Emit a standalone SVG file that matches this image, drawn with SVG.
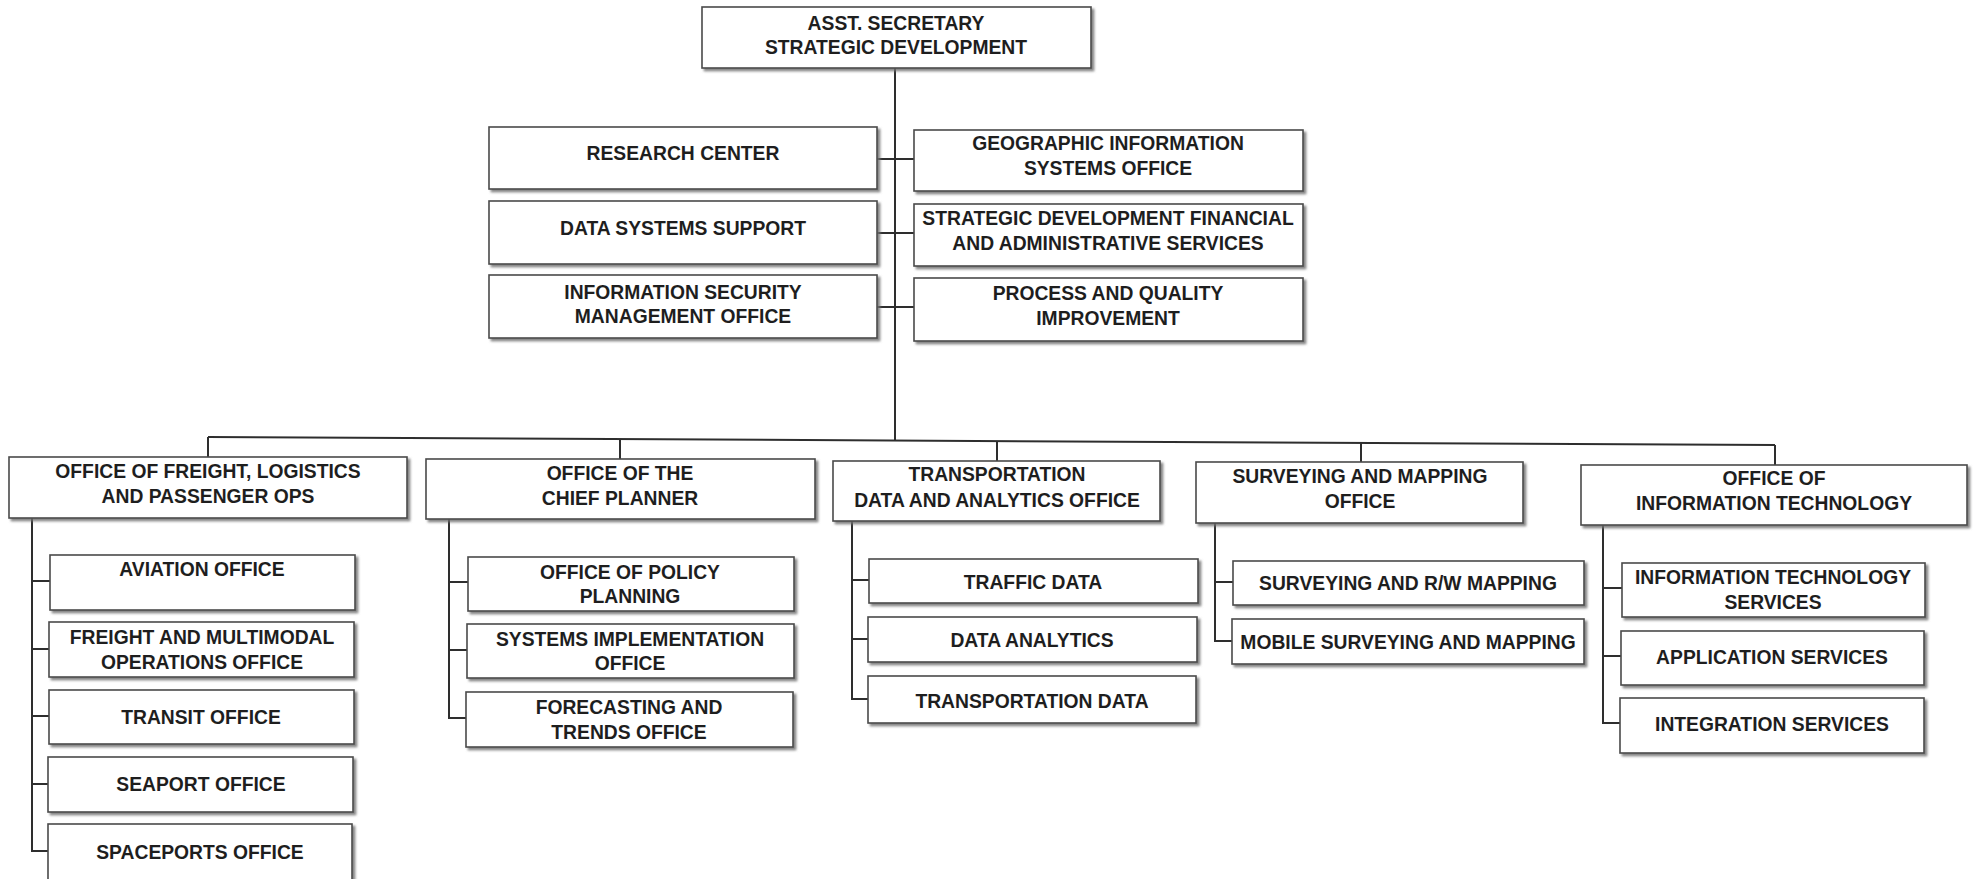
<svg xmlns="http://www.w3.org/2000/svg" width="1974" height="879" viewBox="0 0 1974 879">
  <defs>
    <filter id="shadow" x="-5%" y="-10%" width="110%" height="130%">
      <feDropShadow dx="2.5" dy="2.5" stdDeviation="0.8" flood-color="#6f6f6f" flood-opacity="0.85"/>
    </filter>
  </defs>
  <style>
    .box { fill: #ffffff; stroke: #4a4a4a; stroke-width: 1.6; filter: url(#shadow); }
    .lbl { font-family: "Liberation Sans", Arial, sans-serif; font-weight: bold; font-size: 19.3px; fill: #1e1e1e; text-anchor: middle; }
    .wire { fill: none; stroke: #2e2e2e; stroke-width: 2; }
  </style>
  <rect width="1974" height="879" fill="#ffffff"/>

  <!-- connectors -->
  <g id="connectors" class="wire">
    <!-- main trunk from the assistant secretary -->
    <path d="M895 68 V441"/>
    <!-- staff offices -->
    <path d="M877 159 H914 M877 233 H914 M877 307 H914"/>
    <!-- division bus -->
    <path d="M208 437 L1775 445"/>
    <path d="M208 437 V457 M620 439 V459 M997 441 V461 M1361 443 V462 M1775 445 V465"/>
    <!-- freight, logistics and passenger ops -->
    <path d="M32 518 V851 H48 M32 581 H50 M32 649 H49 M32 716 H49 M32 784 H48"/>
    <!-- chief planner -->
    <path d="M449 519 V718 H466 M449 582 H468 M449 650 H467"/>
    <!-- transportation data and analytics -->
    <path d="M852 521 V699 H868 M852 580 H869 M852 639 H868"/>
    <!-- surveying and mapping -->
    <path d="M1215 523 V641 H1232 M1215 582 H1233"/>
    <!-- information technology -->
    <path d="M1603 525 V723 H1620 M1603 588 H1622 M1603 656 H1621"/>
  </g>

  <!-- top -->
  <g id="asst-secretary">
    <rect class="box" x="702" y="7" width="389" height="61"/>
    <text class="lbl" x="896" y="30">ASST. SECRETARY</text>
    <text class="lbl" x="896" y="54">STRATEGIC DEVELOPMENT</text>
  </g>

  <!-- staff offices, left -->
  <g id="research-center">
    <rect class="box" x="489" y="127" width="388" height="62"/>
    <text class="lbl" x="683" y="160">RESEARCH CENTER</text>
  </g>
  <g id="data-systems-support">
    <rect class="box" x="489" y="201" width="388" height="63"/>
    <text class="lbl" x="683" y="235">DATA SYSTEMS SUPPORT</text>
  </g>
  <g id="info-security">
    <rect class="box" x="489" y="275" width="388" height="63"/>
    <text class="lbl" x="683" y="299">INFORMATION SECURITY</text>
    <text class="lbl" x="683" y="323">MANAGEMENT OFFICE</text>
  </g>

  <!-- staff offices, right -->
  <g id="gis-office">
    <rect class="box" x="914" y="130" width="389" height="61"/>
    <text class="lbl" x="1108" y="150">GEOGRAPHIC INFORMATION</text>
    <text class="lbl" x="1108" y="175">SYSTEMS OFFICE</text>
  </g>
  <g id="financial-admin">
    <rect class="box" x="914" y="204" width="389" height="62"/>
    <text class="lbl" x="1108" y="225">STRATEGIC DEVELOPMENT FINANCIAL</text>
    <text class="lbl" x="1108" y="250">AND ADMINISTRATIVE SERVICES</text>
  </g>
  <g id="process-quality">
    <rect class="box" x="914" y="278" width="389" height="63"/>
    <text class="lbl" x="1108" y="300">PROCESS AND QUALITY</text>
    <text class="lbl" x="1108" y="325">IMPROVEMENT</text>
  </g>

  <!-- divisions -->
  <g id="freight-logistics">
    <rect class="box" x="9" y="457" width="398" height="61"/>
    <text class="lbl" x="208" y="478">OFFICE OF FREIGHT, LOGISTICS</text>
    <text class="lbl" x="208" y="503">AND PASSENGER OPS</text>
  </g>
  <g id="chief-planner">
    <rect class="box" x="426" y="459" width="389" height="60"/>
    <text class="lbl" x="620" y="480">OFFICE OF THE</text>
    <text class="lbl" x="620" y="505">CHIEF PLANNER</text>
  </g>
  <g id="data-analytics-office">
    <rect class="box" x="833" y="461" width="327" height="60"/>
    <text class="lbl" x="997" y="481">TRANSPORTATION</text>
    <text class="lbl" x="997" y="507">DATA AND ANALYTICS OFFICE</text>
  </g>
  <g id="surveying-mapping">
    <rect class="box" x="1196" y="462" width="327" height="61"/>
    <text class="lbl" x="1360" y="483">SURVEYING AND MAPPING</text>
    <text class="lbl" x="1360" y="508">OFFICE</text>
  </g>
  <g id="information-technology">
    <rect class="box" x="1581" y="465" width="386" height="60"/>
    <text class="lbl" x="1774" y="485">OFFICE OF</text>
    <text class="lbl" x="1774" y="510">INFORMATION TECHNOLOGY</text>
  </g>

  <!-- freight, logistics and passenger ops units -->
  <g id="aviation">
    <rect class="box" x="50" y="555" width="305" height="55"/>
    <text class="lbl" x="202" y="576">AVIATION OFFICE</text>
  </g>
  <g id="freight-multimodal">
    <rect class="box" x="49" y="622" width="305" height="55"/>
    <text class="lbl" x="202" y="644">FREIGHT AND MULTIMODAL</text>
    <text class="lbl" x="202" y="669">OPERATIONS OFFICE</text>
  </g>
  <g id="transit">
    <rect class="box" x="49" y="690" width="305" height="54"/>
    <text class="lbl" x="201" y="724">TRANSIT OFFICE</text>
  </g>
  <g id="seaport">
    <rect class="box" x="48" y="757" width="305" height="55"/>
    <text class="lbl" x="201" y="791">SEAPORT OFFICE</text>
  </g>
  <g id="spaceports">
    <rect class="box" x="48" y="824" width="304" height="62"/>
    <text class="lbl" x="200" y="859">SPACEPORTS OFFICE</text>
  </g>

  <!-- chief planner units -->
  <g id="policy-planning">
    <rect class="box" x="468" y="557" width="326" height="54"/>
    <text class="lbl" x="630" y="579">OFFICE OF POLICY</text>
    <text class="lbl" x="630" y="603">PLANNING</text>
  </g>
  <g id="systems-implementation">
    <rect class="box" x="467" y="624" width="327" height="54"/>
    <text class="lbl" x="630" y="646">SYSTEMS IMPLEMENTATION</text>
    <text class="lbl" x="630" y="670">OFFICE</text>
  </g>
  <g id="forecasting-trends">
    <rect class="box" x="466" y="692" width="327" height="55"/>
    <text class="lbl" x="629" y="714">FORECASTING AND</text>
    <text class="lbl" x="629" y="739">TRENDS OFFICE</text>
  </g>

  <!-- transportation data and analytics units -->
  <g id="traffic-data">
    <rect class="box" x="869" y="559" width="329" height="44"/>
    <text class="lbl" x="1033" y="589">TRAFFIC DATA</text>
  </g>
  <g id="data-analytics">
    <rect class="box" x="868" y="617" width="329" height="45"/>
    <text class="lbl" x="1032" y="647">DATA ANALYTICS</text>
  </g>
  <g id="transportation-data">
    <rect class="box" x="868" y="676" width="328" height="47"/>
    <text class="lbl" x="1032" y="708">TRANSPORTATION DATA</text>
  </g>

  <!-- surveying and mapping units -->
  <g id="surveying-rw-mapping">
    <rect class="box" x="1233" y="561" width="351" height="44"/>
    <text class="lbl" x="1408" y="590">SURVEYING AND R/W MAPPING</text>
  </g>
  <g id="mobile-surveying">
    <rect class="box" x="1232" y="619" width="352" height="45"/>
    <text class="lbl" x="1408" y="649">MOBILE SURVEYING AND MAPPING</text>
  </g>

  <!-- information technology units -->
  <g id="it-services">
    <rect class="box" x="1622" y="563" width="303" height="54"/>
    <text class="lbl" x="1773" y="584">INFORMATION TECHNOLOGY</text>
    <text class="lbl" x="1773" y="609">SERVICES</text>
  </g>
  <g id="application-services">
    <rect class="box" x="1621" y="631" width="303" height="54"/>
    <text class="lbl" x="1772" y="664">APPLICATION SERVICES</text>
  </g>
  <g id="integration-services">
    <rect class="box" x="1620" y="698" width="304" height="55"/>
    <text class="lbl" x="1772" y="731">INTEGRATION SERVICES</text>
  </g>
</svg>
